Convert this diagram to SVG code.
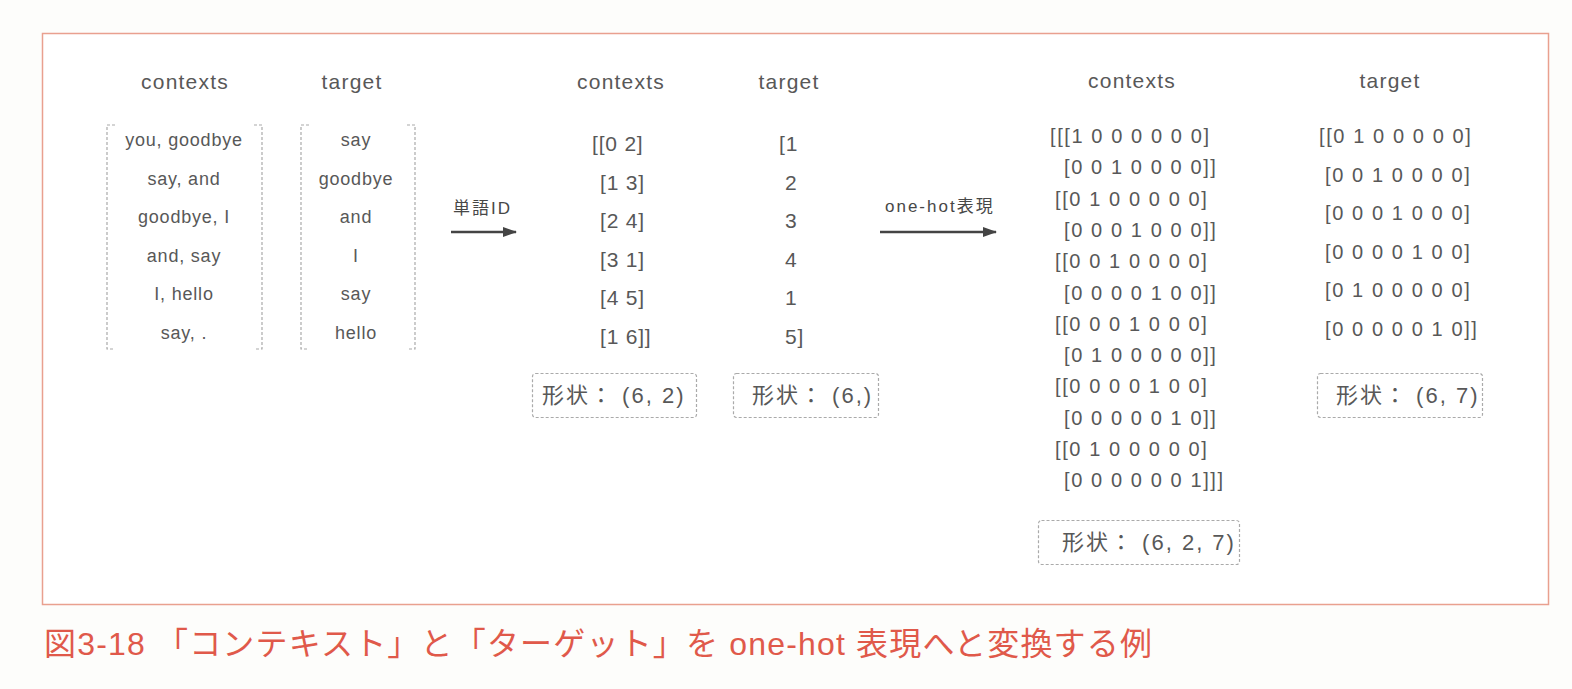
<svg xmlns="http://www.w3.org/2000/svg" width="1572" height="689" viewBox="0 0 1572 689">
<defs>
<style>
.t{font-family:"Liberation Sans","Noto Sans CJK JP",sans-serif;fill:#585858}
.hd{font-size:21px;letter-spacing:1.2px;text-anchor:middle}
.ls{font-size:18px;letter-spacing:0.8px;text-anchor:middle}
.arr{font-size:21px;letter-spacing:0.8px}
.oh{font-size:20px;letter-spacing:1.6px}
.shp{font-size:22px;letter-spacing:2px}
.lbl{font-size:17px;letter-spacing:2px;fill:#474747}
.dash{fill:none;stroke:#aaa;stroke-width:1.2;stroke-dasharray:3 2}
.cap{font-family:"Liberation Sans","Noto Sans CJK JP",sans-serif;font-size:32px;fill:#e0594a}
</style>
<marker id="ah" markerWidth="14" markerHeight="10" refX="13" refY="5" orient="auto" markerUnits="userSpaceOnUse">
<path d="M0,0 L14,5 L0,10 Z" fill="#444"/>
</marker>
</defs>
<rect width="1572" height="689" fill="#fdfdfb"/>
<rect x="42.5" y="33.5" width="1506" height="571" fill="#ffffff" stroke="#e9a08f" stroke-width="1.5"/>

<g id="words-contexts">
<text class="t hd" x="185" y="89">contexts</text>
<path class="dash" d="M115,125 H107 V349 H115"/>
<path class="dash" d="M254,125 H262 V349 H254"/>
<text class="t ls" x="184" y="146">you, goodbye</text>
<text class="t ls" x="184" y="184.5">say, and</text>
<text class="t ls" x="184" y="223">goodbye, I</text>
<text class="t ls" x="184" y="261.5">and, say</text>
<text class="t ls" x="184" y="300">I, hello</text>
<text class="t ls" x="184" y="338.5">say, .</text>
</g>

<g id="words-target">
<text class="t hd" x="352" y="89">target</text>
<path class="dash" d="M309,125 H301 V349 H309"/>
<path class="dash" d="M407,125 H415 V349 H407"/>
<text class="t ls" x="356" y="146">say</text>
<text class="t ls" x="356" y="184.5">goodbye</text>
<text class="t ls" x="356" y="223">and</text>
<text class="t ls" x="356" y="261.5">I</text>
<text class="t ls" x="356" y="300">say</text>
<text class="t ls" x="356" y="338.5">hello</text>
</g>

<g id="id-contexts">
<text class="t hd" x="621" y="89">contexts</text>
<text class="t arr" x="592" y="151">[[0 2]</text>
<text class="t arr" x="600" y="189.5">[1 3]</text>
<text class="t arr" x="600" y="228">[2 4]</text>
<text class="t arr" x="600" y="266.5">[3 1]</text>
<text class="t arr" x="600" y="305">[4 5]</text>
<text class="t arr" x="600" y="343.5">[1 6]]</text>
<rect class="dash" x="532.5" y="373.5" width="164" height="44" rx="3"/>
<text class="t shp" x="542" y="403">形状： (6, 2)</text>
</g>

<g id="id-target">
<text class="t hd" x="789" y="89">target</text>
<text class="t arr" x="779" y="151">[1</text>
<text class="t arr" x="785" y="189.5">2</text>
<text class="t arr" x="785" y="228">3</text>
<text class="t arr" x="785" y="266.5">4</text>
<text class="t arr" x="785" y="305">1</text>
<text class="t arr" x="785" y="343.5">5]</text>
<rect class="dash" x="733.5" y="373.5" width="145" height="44" rx="3"/>
<text class="t shp" x="752" y="403">形状： (6,)</text>
</g>

<g id="onehot-contexts">
<text class="t hd" x="1132" y="88">contexts</text>
<text class="t oh" x="1050" y="143">[[[1 0 0 0 0 0 0]</text>
<text class="t oh" x="1064" y="174.3">[0 0 1 0 0 0 0]]</text>
<text class="t oh" x="1055" y="205.6">[[0 1 0 0 0 0 0]</text>
<text class="t oh" x="1064" y="236.9">[0 0 0 1 0 0 0]]</text>
<text class="t oh" x="1055" y="268.2">[[0 0 1 0 0 0 0]</text>
<text class="t oh" x="1064" y="299.5">[0 0 0 0 1 0 0]]</text>
<text class="t oh" x="1055" y="330.8">[[0 0 0 1 0 0 0]</text>
<text class="t oh" x="1064" y="362.1">[0 1 0 0 0 0 0]]</text>
<text class="t oh" x="1055" y="393.4">[[0 0 0 0 1 0 0]</text>
<text class="t oh" x="1064" y="424.7">[0 0 0 0 0 1 0]]</text>
<text class="t oh" x="1055" y="456">[[0 1 0 0 0 0 0]</text>
<text class="t oh" x="1064" y="487.3">[0 0 0 0 0 0 1]]]</text>
<rect class="dash" x="1038.5" y="520.5" width="201" height="44" rx="3"/>
<text class="t shp" x="1062" y="550">形状： (6, 2, 7)</text>
</g>

<g id="onehot-target">
<text class="t hd" x="1390" y="88">target</text>
<text class="t oh" x="1319" y="143">[[0 1 0 0 0 0 0]</text>
<text class="t oh" x="1325" y="181.5">[0 0 1 0 0 0 0]</text>
<text class="t oh" x="1325" y="220">[0 0 0 1 0 0 0]</text>
<text class="t oh" x="1325" y="258.5">[0 0 0 0 1 0 0]</text>
<text class="t oh" x="1325" y="297">[0 1 0 0 0 0 0]</text>
<text class="t oh" x="1325" y="335.5">[0 0 0 0 0 1 0]]</text>
<rect class="dash" x="1317.5" y="373.5" width="165" height="44" rx="3"/>
<text class="t shp" x="1336" y="403">形状： (6, 7)</text>
</g>

<g id="connectors">
<line x1="451" y1="232" x2="516" y2="232" stroke="#444" stroke-width="2.5" marker-end="url(#ah)"/>
<text class="t lbl" x="453" y="214">単語ID</text>
<line x1="880" y1="232" x2="996" y2="232" stroke="#444" stroke-width="2.5" marker-end="url(#ah)"/>
<text class="t lbl" x="885" y="212">one-hot表現</text>
</g>

<text class="cap" x="44" y="655" textLength="1108" lengthAdjust="spacing">図3-18 「コンテキスト」と「ターゲット」を one-hot 表現へと変換する例</text>
</svg>
